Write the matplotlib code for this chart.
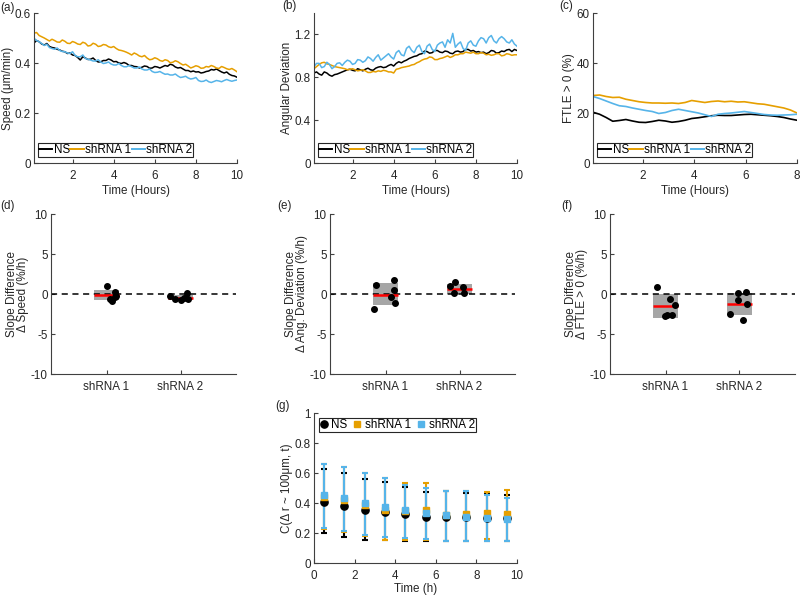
import numpy as np
import matplotlib
matplotlib.use('Agg')
import matplotlib.pyplot as plt
from matplotlib.lines import Line2D

plt.rcParams['font.family'] = ['Liberation Sans', 'DejaVu Sans']
plt.rcParams['font.size'] = 8.4
plt.rcParams['axes.unicode_minus'] = False

# ---------------- data ----------------
groups = ['NS', 'shRNA 1', 'shRNA 2']
colors = ['#000000', '#E69F00', '#56B4E9']

t_ab = np.linspace(0.1, 10, 80)
speed_ns = [0.48, 0.49, 0.485, 0.476, 0.472, 0.478, 0.466, 0.462, 0.46, 0.455,
            0.452, 0.447, 0.445, 0.438, 0.44, 0.432, 0.43, 0.422, 0.412, 0.425,
            0.42, 0.414, 0.415, 0.42, 0.41, 0.404, 0.405, 0.41, 0.41, 0.416,
            0.412, 0.405, 0.406, 0.40, 0.398, 0.402, 0.398, 0.39, 0.39, 0.386,
            0.385, 0.38, 0.383, 0.388, 0.386, 0.379, 0.38, 0.386, 0.384, 0.38,
            0.385, 0.39, 0.387, 0.395, 0.392, 0.384, 0.38, 0.382, 0.376, 0.37,
            0.37, 0.365, 0.368, 0.364, 0.365, 0.36, 0.362, 0.366, 0.368, 0.374,
            0.372, 0.376, 0.37, 0.364, 0.36, 0.364, 0.355, 0.35, 0.348, 0.343]
speed_sh1 = [0.519, 0.522, 0.51, 0.505, 0.50, 0.494, 0.488, 0.495, 0.49, 0.484,
             0.483, 0.492, 0.487, 0.479, 0.478, 0.486, 0.482, 0.476, 0.474, 0.483,
             0.479, 0.468, 0.47, 0.479, 0.475, 0.466, 0.468, 0.474, 0.472, 0.465,
             0.462, 0.466, 0.458, 0.452, 0.45, 0.447, 0.443, 0.438, 0.432, 0.44,
             0.435, 0.428, 0.425, 0.43, 0.42, 0.413, 0.415, 0.421, 0.417, 0.41,
             0.407, 0.413, 0.41, 0.401, 0.403, 0.409, 0.405, 0.398, 0.392, 0.395,
             0.388, 0.38, 0.384, 0.389, 0.386, 0.379, 0.38, 0.386, 0.384, 0.39,
             0.386, 0.38, 0.378, 0.386, 0.382, 0.377, 0.374, 0.378, 0.372, 0.365]
speed_sh2 = [0.499, 0.49, 0.485, 0.478, 0.47, 0.475, 0.462, 0.458, 0.455, 0.46,
             0.45, 0.446, 0.445, 0.44, 0.438, 0.445, 0.43, 0.425, 0.425, 0.432,
             0.418, 0.415, 0.412, 0.408, 0.408, 0.413, 0.404, 0.398, 0.40, 0.404,
             0.396, 0.392, 0.392, 0.398, 0.39, 0.385, 0.385, 0.39, 0.385, 0.38,
             0.38, 0.384, 0.376, 0.372, 0.372, 0.376, 0.366, 0.362, 0.363, 0.366,
             0.36, 0.355, 0.356, 0.352, 0.352, 0.356, 0.348, 0.342, 0.344, 0.347,
             0.34, 0.336, 0.338, 0.342, 0.33, 0.326, 0.327, 0.332, 0.325, 0.322,
             0.326, 0.33, 0.328, 0.325, 0.33, 0.334, 0.33, 0.327, 0.33, 0.332]

angdev_ns = [0.84, 0.85, 0.83, 0.82, 0.85, 0.84, 0.82, 0.81, 0.825, 0.83,
             0.84, 0.85, 0.86, 0.87, 0.875, 0.865, 0.86, 0.88, 0.87, 0.86,
             0.875, 0.885, 0.87, 0.865, 0.885, 0.895, 0.90, 0.89, 0.895, 0.91,
             0.92, 0.905, 0.93, 0.945, 0.935, 0.95, 0.96, 0.975, 0.985, 0.995,
             1.0, 1.015, 1.02, 1.045, 1.04, 1.025, 1.03, 1.05, 1.05, 1.035,
             1.03, 1.045, 1.04, 1.025, 1.02, 1.04, 1.045, 1.035, 1.04, 1.06,
             1.06, 1.045, 1.05, 1.035, 1.04, 1.03, 1.035, 1.02, 1.03, 1.05,
             1.045, 1.025, 1.03, 1.045, 1.04, 1.055, 1.06, 1.04, 1.06, 1.05]
angdev_sh1 = [0.88, 0.90, 0.92, 0.935, 0.94, 0.925, 0.92, 0.91, 0.90, 0.895,
              0.89, 0.885, 0.88, 0.87, 0.875, 0.88, 0.87, 0.86, 0.865, 0.87,
              0.86, 0.845, 0.845, 0.855, 0.85, 0.86, 0.855, 0.865, 0.86, 0.85,
              0.85, 0.84, 0.875, 0.88, 0.89, 0.895, 0.90, 0.905, 0.915, 0.92,
              0.935, 0.945, 0.96, 0.97, 0.975, 0.99, 0.985, 0.965, 0.965, 0.975,
              0.98, 0.99, 1.0, 0.985, 0.995, 1.01, 1.01, 1.02, 1.02, 1.035,
              1.03, 1.025, 1.035, 1.02, 1.02, 1.03, 1.025, 1.01, 1.015, 1.005,
              1.01, 1.02, 1.02, 1.0, 1.005, 1.02, 1.015, 1.005, 1.01, 1.01]
angdev_sh2 = [0.90, 0.93, 0.93, 0.89, 0.90, 0.94, 0.92, 0.88, 0.90, 0.93,
              0.935, 0.91, 0.94, 0.96, 0.95, 0.92, 0.93, 0.965, 0.96, 0.94,
              0.955, 0.99, 0.975, 0.95, 0.985, 1.01, 0.96, 0.98, 1.0, 1.02,
              0.99, 0.97, 1.03, 1.05, 1.01, 1.0, 1.07, 1.09, 1.05, 1.03,
              1.08, 1.10, 1.04, 1.02, 1.09, 1.11, 1.06, 1.04, 1.10, 1.12,
              1.13, 1.08, 1.15, 1.12, 1.21, 1.08, 1.11, 1.13, 1.07, 1.05,
              1.12, 1.14, 1.10, 1.09, 1.14, 1.17, 1.16, 1.12, 1.17, 1.19,
              1.14, 1.12, 1.16, 1.18, 1.16, 1.13, 1.12, 1.15, 1.11, 1.09]

t_c = np.linspace(0.05, 8, 32)
ftle_ns = [20.3, 19.5, 18.2, 16.7, 17.0, 17.4, 16.8, 16.3, 16.2, 16.6, 17.1, 16.8, 16.3, 16.6, 17.1, 17.8,
           18.1, 18.5, 18.9, 19.1, 19.0, 19.0, 19.2, 19.4, 19.5, 19.3, 19.1, 18.9, 18.6, 18.2, 17.6, 17.1]
ftle_sh1 = [27.0, 27.2, 26.6, 26.2, 26.3, 25.5, 25.0, 24.5, 24.2, 24.0, 24.0, 23.9, 24.0, 23.8, 24.2, 25.0,
            24.6, 24.2, 24.6, 24.8, 24.5, 24.7, 24.4, 24.5, 24.1, 23.7, 23.5, 23.0, 22.5, 22.0, 21.2, 20.0]
ftle_sh2 = [26.6, 25.8, 24.8, 23.8, 22.9, 22.6, 22.0, 21.5, 21.0, 20.6, 19.8, 20.2, 21.0, 21.5, 21.0, 20.5,
            20.0, 19.3, 18.6, 19.5, 19.8, 20.0, 20.3, 20.6, 20.2, 19.8, 19.4, 19.2, 19.1, 19.2, 19.3, 19.5]

# slope-difference panels: box low / high / median, jitter offsets and values
box_cats = ['shRNA 1', 'shRNA 2']
d_lo, d_hi, d_med = [-0.7, -0.7], [0.54, -0.08], [-0.12, -0.45]
d_jit = [[0.0, 0.05, 0.07, 0.11, 0.12, 0.13], [-0.14, -0.07, 0.0, 0.05, 0.09, 0.10]]
d_val = [[1.04, -0.62, -0.91, -0.41, 0.21, -0.29], [-0.29, -0.62, -0.7, -0.5, 0.12, -0.66]]

e_lo, e_hi, e_med = [-1.4, 0.0], [1.37, 1.3], [-0.08, 0.66]
e_jit = [[-0.15, -0.13, 0.11, 0.11, 0.08, 0.135], [-0.126, -0.06, -0.08, 0.045, 0.063]]
e_val = [[-1.87, 1.08, 1.7, 0.46, -0.41, -1.08], [1.0, 1.54, 0.08, 0.87, 0.08]]

f_lo, f_hi, f_med = [-3.03, -2.66], [0.0, 0.17], [-1.54, -1.24]
f_jit = [[-0.11, -0.01, 0.02, 0.06, 0.09, 0.135], [-0.126, -0.02, -0.02, 0.09, 0.10, 0.045]]
f_val = [[0.87, -2.78, -2.66, -0.62, -2.61, -1.37], [-2.45, 0.12, -0.75, 0.21, -1.2, -3.28]]

# correlation panel
t_g = [0.5, 1.5, 2.5, 3.5, 4.5, 5.5, 6.5, 7.5, 8.5, 9.5]
c_ns_mean = [0.409, 0.382, 0.353, 0.342, 0.324, 0.304, 0.31, 0.305, 0.30, 0.30]
c_ns_hi = [0.625, 0.602, 0.56, 0.542, 0.509, 0.475, 0.48, 0.47, 0.458, 0.455]
c_ns_lo = [0.198, 0.171, 0.153, 0.153, 0.15, 0.147, 0.15, 0.147, 0.15, 0.15]
c_s1_mean = [0.44, 0.42, 0.39, 0.353, 0.345, 0.353, 0.318, 0.327, 0.331, 0.327]
c_s1_hi = [0.66, 0.64, 0.60, 0.567, 0.531, 0.535, 0.48, 0.482, 0.476, 0.487]
c_s1_lo = [0.225, 0.21, 0.18, 0.153, 0.153, 0.153, 0.15, 0.15, 0.158, 0.15]
c_s2_mean = [0.453, 0.431, 0.398, 0.376, 0.351, 0.333, 0.318, 0.307, 0.30, 0.293]
c_s2_hi = [0.66, 0.642, 0.598, 0.564, 0.52, 0.50, 0.482, 0.478, 0.456, 0.433]
c_s2_lo = [0.236, 0.216, 0.187, 0.171, 0.164, 0.158, 0.149, 0.149, 0.149, 0.149]

AX = '#404040'
TXT = '#262626'

fig = plt.figure(figsize=(8, 5.96), dpi=100)
W, H = 800, 596


def add_ax(l, r, top, bot):
    return fig.add_axes([l / W, 1 - bot / H, (r - l) / W, (bot - top) / H])


def style(ax):
    for s in ['top', 'right']:
        ax.spines[s].set_visible(False)
    for s in ['left', 'bottom']:
        ax.spines[s].set_color(AX)
        ax.spines[s].set_linewidth(0.8)
    ax.tick_params(direction='in', length=3, width=0.8, colors=AX, labelcolor=TXT, labelsize=8.4)
    ax.tick_params(axis='x', pad=5)
    ax.tick_params(axis='y', pad=2.5)


def line_legend(ax):
    handles = [Line2D([], [], color=c, lw=1.4) for c in colors]
    leg = ax.legend(handles, groups, ncol=3, loc='lower left', bbox_to_anchor=(0.02, 0.04),
                    borderaxespad=0, fancybox=False, edgecolor='#262626', framealpha=1,
                    handlelength=1.15, handletextpad=0.1, columnspacing=0.05, borderpad=0.08,
                    fontsize=8.4)
    leg.get_frame().set_linewidth(0.8)


# (a)
ax = add_ax(34, 237, 13, 163)
for y, c in zip([speed_ns, speed_sh1, speed_sh2], colors):
    ax.plot(t_ab, y, color=c, lw=1.1)
ax.set_xlim(0.1, 10)
ax.set_ylim(0, 0.6)
ax.set_xticks([2, 4, 6, 8, 10])
ax.set_yticks([0, 0.2, 0.4, 0.6])
ax.set_yticklabels(['0', '0.2', '0.4', '0.6'])
ax.set_xlabel('Time (Hours)', color=TXT, labelpad=2)
ax.set_ylabel('Speed (μm/min)', color=TXT, labelpad=0.5)
style(ax)
line_legend(ax)

# (b)
ax = add_ax(314, 517, 13, 163)
for y, c in zip([angdev_ns, angdev_sh1, angdev_sh2], colors):
    ax.plot(t_ab, y, color=c, lw=1.1)
ax.set_xlim(0.1, 10)
ax.set_ylim(0, 1.4)
ax.set_xticks([2, 4, 6, 8, 10])
ax.set_yticks([0, 0.4, 0.8, 1.2])
ax.set_yticklabels(['0', '0.4', '0.8', '1.2'])
ax.set_xlabel('Time (Hours)', color=TXT, labelpad=2)
ax.set_ylabel('Angular Deviation', color=TXT, labelpad=1)
style(ax)
line_legend(ax)

# (c)
ax = add_ax(593, 797, 13, 163)
for y, c in zip([ftle_ns, ftle_sh1, ftle_sh2], colors):
    ax.plot(t_c, y, color=c, lw=1.2)
ax.set_xlim(0.05, 8)
ax.set_ylim(0, 60)
ax.set_xticks([2, 4, 6, 8])
ax.set_yticks([0, 20, 40, 60])
ax.set_xlabel('Time (Hours)', color=TXT, labelpad=2)
ax.set_ylabel('FTLE > 0 (%)', color=TXT, labelpad=1)
style(ax)
line_legend(ax)


def box_panel(l, r, lo, hi, med, jit, val, ylabel):
    ax = add_ax(l, r, 214, 374)
    pos = np.arange(1, len(box_cats) + 1)
    hw = 0.17
    ax.bar(pos, np.array(hi) - np.array(lo), bottom=lo, width=2 * hw, color='#a6a6a6', zorder=1)
    ax.axhline(0, color='k', ls='--', lw=1.1, dashes=(4, 3), zorder=2)
    ax.hlines(med, pos - hw, pos + hw, color='#ff0000', lw=1.8, zorder=3)
    for p, j, v in zip(pos, jit, val):
        ax.plot(p + np.array(j), v, 'o', color='k', ms=4.0, zorder=4)
    ax.set_xlim(0.25, 2.75)
    ax.set_ylim(-10, 10)
    ax.set_xticks(pos)
    ax.set_xticklabels(box_cats)
    ax.set_yticks([-10, -5, 0, 5, 10])
    ax.set_ylabel(ylabel, color=TXT, labelpad=1, linespacing=0.95)
    style(ax)
    return ax


box_panel(51, 236, d_lo, d_hi, d_med, d_jit, d_val, 'Slope Difference\nΔ Speed (%/h)')
box_panel(330, 515, e_lo, e_hi, e_med, e_jit, e_val, 'Slope Difference\nΔ Ang. Deviation (%/h)')
box_panel(610, 795, f_lo, f_hi, f_med, f_jit, f_val, 'Slope Difference\nΔ FTLE > 0 (%/h)')

# (g)
ax = add_ax(314, 517, 413, 563)
specs = [(c_ns_mean, c_ns_lo, c_ns_hi, 'o', 5.2), (c_s1_mean, c_s1_lo, c_s1_hi, 's', 4.3),
         (c_s2_mean, c_s2_lo, c_s2_hi, 's', 4.3)]
for (m, lo, hi, mk, ms), c in zip(specs, colors):
    m = np.array(m)
    yerr = [m - np.array(lo), np.array(hi) - m]
    ax.errorbar(t_g, m, yerr=yerr, fmt=mk, color=c, ms=ms, capsize=2.3, elinewidth=1.5, capthick=1.5)
ax.set_xlim(0, 10)
ax.set_ylim(0, 1)
ax.set_xticks([0, 2, 4, 6, 8, 10])
ax.set_yticks([0, 0.2, 0.4, 0.6, 0.8, 1])
ax.set_yticklabels(['0', '0.2', '0.4', '0.6', '0.8', '1'])
ax.set_xlabel('Time (h)', color=TXT, labelpad=1)
ax.set_ylabel('C(Δ r ~ 100μm, t)', color=TXT, labelpad=1)
style(ax)
handles = [Line2D([], [], ls='none', marker=mk, color=c, ms=ms) for (_, _, _, mk, ms), c in zip(specs, colors)]
leg = ax.legend(handles, groups, ncol=3, loc='upper left', bbox_to_anchor=(0.025, 0.967),
                borderaxespad=0, fancybox=False, edgecolor='#262626', framealpha=1,
                handlelength=0.6, handletextpad=0.35, columnspacing=0.55, borderpad=0.1,
                fontsize=8.4, numpoints=1)
leg.get_frame().set_linewidth(0.8)

# panel letters
for txt, x, y in [('(a)', 0, 8), ('(b)', 282, 6), ('(c)', 559, 6), ('(d)', 0, 206),
                  ('(e)', 277, 206), ('(f)', 561, 206), ('(g)', 275, 406)]:
    fig.text(x / W, 1 - y / H, txt, ha='left', va='center', color=TXT, fontsize=8.4)

fig.savefig('out.png', dpi=100)
